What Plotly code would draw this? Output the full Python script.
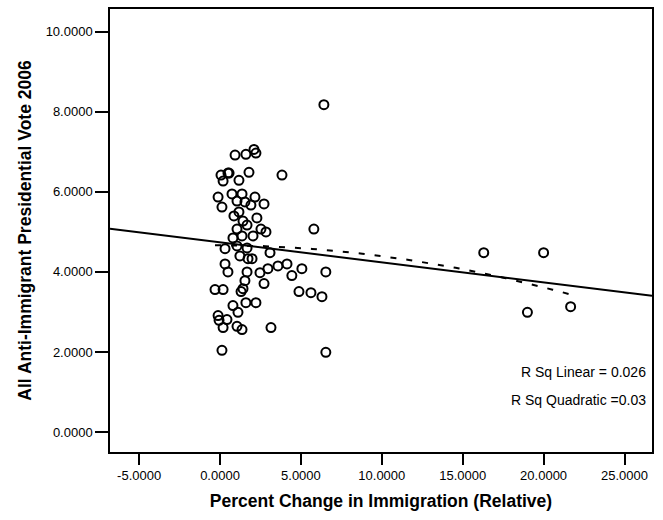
import numpy as np
import plotly.graph_objects as go

# Data (Percent change in immigration, anti-immigrant vote)
pct_change = [
    0.93, 1.60, 2.10, 2.22, 0.06, 0.49, 0.56, 0.19, 1.17, 1.79,
    -0.12, 0.12, 0.74, 1.36, 1.05, 1.54, 2.16, 1.91, 2.72, 0.86,
    1.17, 1.42, 1.67, 2.28, 1.05, 2.53, 2.84,
    0.80, 1.36, 2.04, 0.31, 1.05, 1.67, 1.23, 1.73, 1.98, 3.09,
    0.31, 0.49, 1.67, 2.47, 2.96, 3.58, 1.54, 2.72, 1.42, 1.30,
    -0.31, 0.19, 1.60, 2.22, 0.80, 1.11, -0.12, -0.06, 0.43, 0.19,
    1.05, 1.36, 3.15, 0.12,
    3.83, 6.42, 5.80, 4.14, 4.44, 5.06, 6.54, 4.88, 5.62, 6.30,
    6.54, 16.3, 20.0, 19.0, 21.67,
]
anti_vote = [
    6.92, 6.94, 7.06, 6.97, 6.42, 6.47, 6.47, 6.27, 6.29, 6.49,
    5.87, 5.62, 5.95, 5.95, 5.77, 5.75, 5.87, 5.67, 5.70, 5.40,
    5.50, 5.27, 5.17, 5.35, 5.07, 5.07, 5.00,
    4.85, 4.90, 4.90, 4.58, 4.65, 4.60, 4.40, 4.33, 4.33, 4.48,
    4.20, 4.00, 4.00, 3.98, 4.08, 4.15, 3.78, 3.71, 3.58, 3.51,
    3.56, 3.56, 3.23, 3.23, 3.16, 2.99, 2.91, 2.79, 2.81, 2.61,
    2.64, 2.56, 2.61, 2.04,
    6.42, 8.18, 5.07, 4.20, 3.91, 4.08, 4.00, 3.51, 3.48, 3.38,
    1.99, 4.48, 4.48, 2.99, 3.13,
]

x_tick_vals = [-5, 0, 5, 10, 15, 20, 25]
x_tick_text = ["-5.0000", "0.0000", "5.0000", "10.0000", "15.0000", "20.0000", "25.0000"]
y_tick_vals = [0, 2, 4, 6, 8, 10]
y_tick_text = ["0.0000", "2.0000", "4.0000", "6.0000", "8.0000", "10.0000"]

x_range = [-6.8, 26.7]
y_range = [-0.5, 10.57]

x = np.array(pct_change)
y = np.array(anti_vote)

# Fit lines computed from the data (as the original fit lines are)
lin = np.polyfit(x, y, 1)
quad = np.polyfit(x, y, 2)
xl = np.array(x_range)
xq = np.linspace(x.min(), x.max(), 100)

FONT = "Liberation Sans, Arial, sans-serif"

fig = go.Figure()
fig.add_trace(go.Scatter(
    x=xl, y=np.polyval(lin, xl), mode="lines",
    line=dict(color="black", width=2), hoverinfo="skip", showlegend=False))
fig.add_trace(go.Scatter(
    x=xq, y=np.polyval(quad, xq), mode="lines",
    line=dict(color="black", width=2, dash="6px,10px"), hoverinfo="skip", showlegend=False))
fig.add_trace(go.Scatter(
    x=pct_change, y=anti_vote, mode="markers",
    marker=dict(symbol="circle-open", size=9, color="black", line=dict(width=2, color="black")),
    showlegend=False))

axis_common = dict(
    showgrid=False, zeroline=False, showline=True, linecolor="black", linewidth=1.5,
    mirror=True, ticks="outside", tickwidth=2, tickcolor="black",
    tickfont=dict(family=FONT, size=13, color="black"),
)
fig.update_xaxes(range=x_range, tickvals=x_tick_vals, ticktext=x_tick_text, ticklen=11,
                 title=dict(text="<b>Percent Change in Immigration (Relative)</b>",
                            font=dict(family=FONT, size=17.5, color="black"), standoff=12),
                 **axis_common)
fig.update_yaxes(range=y_range, tickvals=y_tick_vals, ticktext=y_tick_text, ticklen=13,
                 title=dict(text="<b>All Anti-Immigrant Presidential Vote 2006</b>",
                            font=dict(family=FONT, size=17.5, color="black"), standoff=10),
                 **axis_common)

fig.add_annotation(x=0.993, y=0.18, xref="paper", yref="paper", xanchor="right", yanchor="middle",
                   text="R Sq Linear = 0.026", showarrow=False,
                   font=dict(family=FONT, size=14, color="black"))
fig.add_annotation(x=0.993, y=0.117, xref="paper", yref="paper", xanchor="right", yanchor="middle",
                   text="R Sq Quadratic =0.03", showarrow=False,
                   font=dict(family=FONT, size=14, color="black"))

fig.update_layout(
    width=663, height=520,
    margin=dict(l=110, r=11, t=7, b=68),
    paper_bgcolor="white", plot_bgcolor="white",
    font=dict(family=FONT, color="black"),
)

fig.write_html("out.html", config={"displayModeBar": False},
               post_script="document.body.style.margin='0';")
